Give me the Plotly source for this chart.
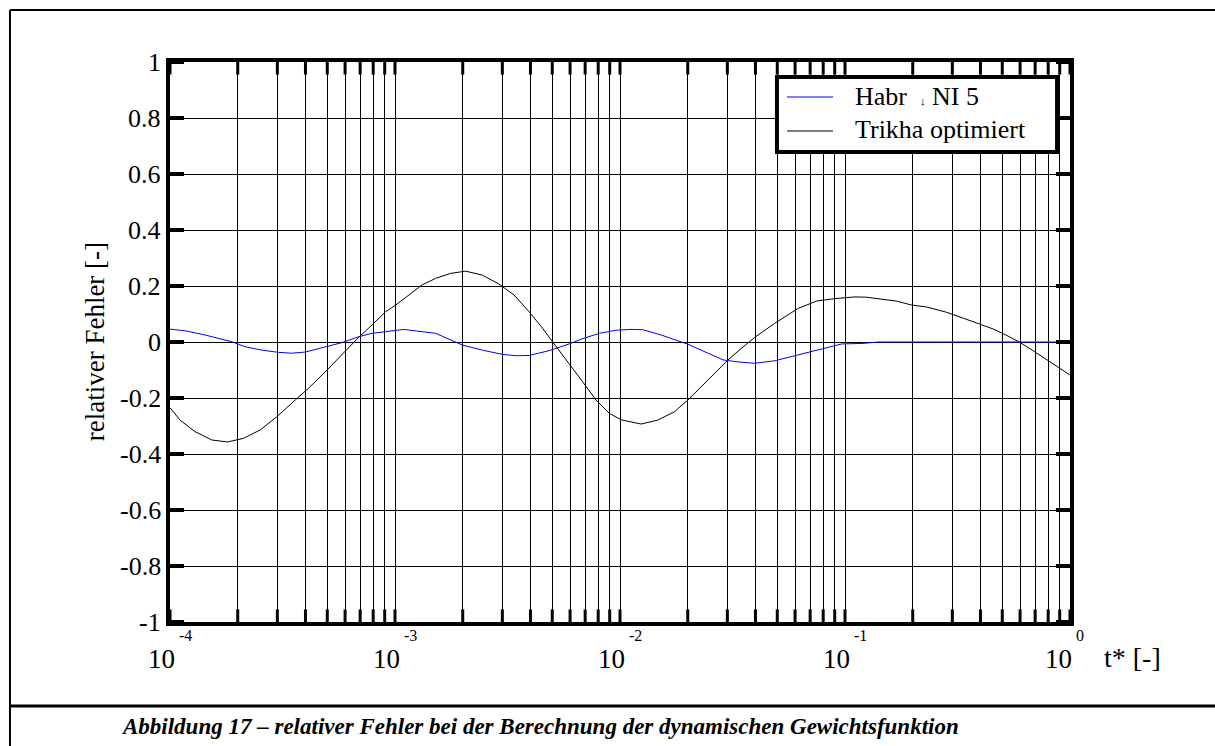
import plotly.graph_objects as go

# Relative error of the dynamic weighting function, two approximations
t_habr = [1.000e-4, 1.167e-4, 1.432e-4, 1.884e-4, 2.158e-4, 2.559e-4, 3.041e-4,
          3.459e-4, 3.990e-4, 4.898e-4, 5.821e-4, 6.902e-4, 7.907e-4, 9.078e-4,
          1.094e-3, 1.514e-3, 1.995e-3, 2.443e-3, 2.999e-3, 3.443e-3, 3.945e-3,
          4.842e-3, 5.943e-3, 6.823e-3, 8.091e-3, 9.594e-3, 1.119e-2, 1.262e-2,
          1.524e-2, 2.004e-2, 2.377e-2, 2.871e-2, 3.342e-2, 3.963e-2, 4.875e-2,
          6.194e-2, 7.870e-2, 9.661e-2, 1.202e-1, 1.403e-1, 3.000e-1, 1.000e0]
err_habr = [0.046, 0.040, 0.025, 0.001, -0.017, -0.029, -0.037,
            -0.040, -0.036, -0.017, -0.002, 0.019, 0.031, 0.037,
            0.045, 0.031, -0.011, -0.029, -0.044, -0.049, -0.048,
            -0.031, -0.007, 0.012, 0.031, 0.042, 0.045, 0.044,
            0.025, -0.008, -0.035, -0.064, -0.071, -0.076, -0.067,
            -0.046, -0.023, -0.007, -0.005, 0.000, 0.000, 0.000]

t_trikha = [1.000e-4, 1.109e-4, 1.291e-4, 1.535e-4, 1.807e-4, 2.123e-4, 2.518e-4,
            2.985e-4, 3.606e-4, 4.130e-4, 4.989e-4, 6.026e-4, 6.902e-4, 7.907e-4,
            9.078e-4, 1.000e-3, 1.114e-3, 1.321e-3, 1.514e-3, 1.766e-3, 2.061e-3,
            2.443e-3, 2.897e-3, 3.381e-3, 3.945e-3, 4.529e-3, 5.012e-3, 5.943e-3,
            6.823e-3, 7.816e-3, 8.974e-3, 1.012e-2, 1.242e-2, 1.472e-2, 1.746e-2,
            2.004e-2, 2.460e-2, 3.020e-2, 3.459e-2, 3.963e-2, 4.875e-2, 6.194e-2,
            7.464e-2, 9.016e-2, 1.107e-1, 1.245e-1, 1.694e-1, 1.977e-1, 2.307e-1,
            2.831e-1, 3.357e-1, 3.990e-1, 4.571e-1, 5.248e-1, 5.916e-1, 6.887e-1,
            8.166e-1, 1.000e0]
err_trikha = [-0.235, -0.279, -0.320, -0.350, -0.357, -0.344, -0.314,
              -0.267, -0.207, -0.165, -0.100, -0.032, 0.017, 0.061,
              0.108, 0.130, 0.160, 0.204, 0.227, 0.245, 0.253,
              0.239, 0.207, 0.168, 0.108, 0.049, 0.001, -0.076,
              -0.142, -0.207, -0.255, -0.278, -0.293, -0.279, -0.249,
              -0.207, -0.136, -0.064, -0.023, 0.016, 0.067, 0.120,
              0.146, 0.155, 0.161, 0.160, 0.146, 0.132, 0.125,
              0.106, 0.085, 0.063, 0.046, 0.023, 0.001, -0.032,
              -0.070, -0.118]

decade_exps = [-4, -3, -2, -1, 0]
y_ticks = [1, 0.8, 0.6, 0.4, 0.2, 0, -0.2, -0.4, -0.6, -0.8, -1]
y_ticktext = ["1", "0.8", "0.6", "0.4", "0.2", "0", "-0.2", "-0.4", "-0.6", "-0.8", "-1"]

series_names = ["Habr\u00a0\u00a0<span style='font-size:11px'>\u2193</span>\u00a0NI 5",
                "Trikha optimiert"]
series_colors = ["#0000ff", "#000000"]
y_title = "relativer Fehler [-]"
x_title = "t* [-]"
caption = "Abbildung 17 \u2013 relativer Fehler bei der Berechnung der dynamischen Gewichtsfunktion"

FONT = "Liberation Serif, Times New Roman, serif"

major_vals = [10.0 ** e for e in decade_exps]
minor_vals = [m * 10.0 ** e for e in decade_exps[:-1] for m in range(2, 10)]
all_xticks = major_vals + minor_vals

fig = go.Figure()
for xs, ys, name, color in zip([t_habr, t_trikha], [err_habr, err_trikha],
                               series_names, series_colors):
    fig.add_trace(go.Scatter(x=xs, y=ys, mode="lines", name=name,
                             line=dict(color=color, width=1), showlegend=False))

# short inward tick marks on all four sides (outer half clipped by the plot area)
y_lo, y_hi = -1, 1
fig.add_trace(go.Scatter(
    x=all_xticks + all_xticks, y=[y_lo] * len(all_xticks) + [y_hi] * len(all_xticks),
    mode="markers", hoverinfo="skip", showlegend=False, cliponaxis=True,
    marker=dict(symbol="line-ns-open", size=18, color="black",
                line=dict(color="black", width=3))))
fig.add_trace(go.Scatter(
    x=[major_vals[0]] * len(y_ticks) + [major_vals[-1]] * len(y_ticks), y=y_ticks + y_ticks,
    mode="markers", hoverinfo="skip", showlegend=False, cliponaxis=True,
    marker=dict(symbol="line-ew-open", size=20, color="black",
                line=dict(color="black", width=4))))

fig.update_xaxes(
    type="log", range=[-4, 0],
    tickvals=major_vals, showticklabels=False, ticks="",
    showgrid=True, gridcolor="black", gridwidth=1,
    minor=dict(tickvals=minor_vals, ticks="", showgrid=True,
               gridcolor="black", gridwidth=1),
    showline=True, linecolor="black", linewidth=4, mirror=True,
    zeroline=False,
)
fig.update_yaxes(
    range=[-1, 1], tickvals=y_ticks, showticklabels=False, ticks="",
    showgrid=True, gridcolor="black", gridwidth=1,
    showline=True, linecolor="black", linewidth=4, mirror=True,
    zeroline=False,
)

annotations = []
# value labels on the left axis
for v, txt in zip(y_ticks, y_ticktext):
    annotations.append(dict(x=0, y=v, xref="paper", yref="y", text=txt,
                            showarrow=False, xanchor="right", yanchor="middle",
                            xshift=-7, font=dict(family=FONT, size=26, color="black")))
# decade labels: base "10" with a raised exponent
for e in decade_exps:
    shift = 7 if e < 0 else 4
    annotations.append(dict(x=e, y=-0.035, xref="x", yref="paper", text="10",
                            showarrow=False, xanchor="right", yanchor="top",
                            xshift=shift, font=dict(family=FONT, size=27, color="black")))
    annotations.append(dict(x=e, y=-0.005, xref="x", yref="paper", text=str(e),
                            showarrow=False, xanchor="left", yanchor="top",
                            xshift=shift, font=dict(family=FONT, size=16, color="black")))
annotations.append(dict(x=1.036, y=-0.033, xref="paper", yref="paper", text=x_title,
                        showarrow=False, xanchor="left", yanchor="top",
                        font=dict(family=FONT, size=28, color="black")))
annotations.append(dict(x=-0.083, y=0.5, xref="paper", yref="paper", text=y_title,
                        showarrow=False, textangle=-90, xanchor="center", yanchor="middle",
                        font=dict(family=FONT, size=27, color="black")))
annotations.append(dict(x=0.411, y=-0.186, xref="paper", yref="paper",
                        text="<b><i>" + caption + "</i></b>",
                        showarrow=False, xanchor="center", yanchor="middle",
                        font=dict(family=FONT, size=23, color="black")))

shapes = [
    # outer frame of the figure and separator above the caption
    dict(type="line", xref="paper", yref="paper", x0=-0.1778, x1=1.2, y0=1.0929, y1=1.0929,
         line=dict(color="black", width=2)),
    dict(type="line", xref="paper", yref="paper", x0=-0.1778, x1=-0.1778, y0=1.0929, y1=-0.25,
         line=dict(color="black", width=2)),
    dict(type="line", xref="paper", yref="paper", x0=-0.1778, x1=1.2, y0=-0.15, y1=-0.15,
         line=dict(color="black", width=3)),
    # legend box
    dict(type="rect", xref="paper", yref="paper", x0=0.6744, x1=0.9856, y0=0.8393, y1=0.9732,
         line=dict(color="black", width=4), fillcolor="white", layer="above"),
]

# legend entries: short line sample followed by the series name
legend_rows = [0.9375, 0.8768]
for row_y, name, color in zip(legend_rows, series_names, series_colors):
    shapes.append(dict(type="line", xref="paper", yref="paper", x0=0.6856, x1=0.7367,
                       y0=row_y, y1=row_y, line=dict(color=color, width=1), layer="above"))
    annotations.append(dict(x=0.7589, y=row_y, xref="paper", yref="paper", text=name,
                            showarrow=False, xanchor="left", yanchor="middle", yshift=1,
                            font=dict(family=FONT, size=26, color="black")))

fig.update_layout(
    width=1215, height=746,
    margin=dict(l=170, r=145, t=62, b=124),
    paper_bgcolor="white", plot_bgcolor="white",
    font=dict(family=FONT, size=26, color="black"),
    showlegend=False,
    annotations=annotations,
    shapes=shapes,
)

fig.write_html("out.html")
